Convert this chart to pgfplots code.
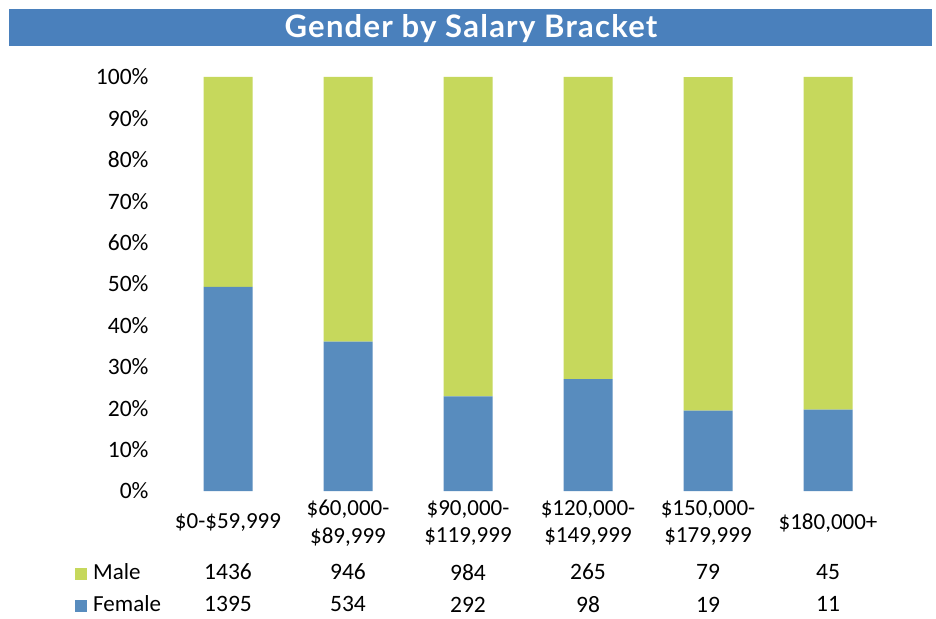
\documentclass[border=0pt]{standalone}
\usepackage{fontspec}
\setmainfont{Carlito}
\newfontfamily\titlefont{Lato}[LetterSpace=4]
\usepackage{pgfplots}
\usepackage{pgfplotstable}
\pgfplotsset{compat=1.18}
\definecolor{cFemale}{RGB}{88,140,190}
\definecolor{cMale}{RGB}{198,216,92}
\definecolor{cBanner}{RGB}{74,128,188}

% counts per salary bracket
\pgfplotstableread{
x F M
0 1395 1436
1 534 946
2 292 984
3 98 265
4 19 79
5 11 45
}\salary

\begin{document}
\begin{tikzpicture}[x=1pt,y=1pt]
\useasboundingbox (0,0) rectangle (936,618);
\fill[white] (0,0) rectangle (936,618);
% title banner
\fill[cBanner] (9,572) rectangle (932,609);
\node[text=white,font=\titlefont\bfseries\fontsize{31}{34}\selectfont] at (471,589.5) {Gender by Salary Bracket};

\pgfplotsset{base/.style={
    at={(168pt,127pt)}, anchor=south west,
    scale only axis, width=720pt, height=414pt,
    xmin=-0.5, xmax=5.5, ymin=0, ymax=100,
    clip=false,
}}

\begin{axis}[base,
    ybar stacked, bar width=49pt,
    axis line style={draw=none},
    tick style={draw=none},
    xtick={0,...,5},
    xticklabels={{\$0-\$59,999},{\$60,000-\\\$89,999},{\$90,000-\\\$119,999},
                 {\$120,000-\\\$149,999},{\$150,000-\\\$179,999},{\$180,000+}},
    xticklabel style={anchor=center,yshift=-32pt,align=center,
        font=\fontsize{23}{27.5}\selectfont},
    ytick={0,10,...,100},
    yticklabel={\pgfmathprintnumber{\tick}\%},
    yticklabel style={anchor=east,xshift=-16pt,font=\fontsize{23.5}{26}\selectfont},
    /pgf/number format/assume math mode=true,
]
\addplot[fill=cFemale,draw=none] table[x=x,y expr=100*\thisrow{F}/(\thisrow{F}+\thisrow{M})] {\salary};
\addplot[fill=cMale,draw=none] table[x=x,y expr=100*\thisrow{M}/(\thisrow{F}+\thisrow{M})] {\salary};
\end{axis}

% data table rows
\begin{axis}[base, hide axis]
\addplot[draw=none,mark=none,nodes near coords,point meta=explicit symbolic,
    every node near coord/.append style={anchor=center,inner sep=0pt,font=\fontsize{23.5}{26}\selectfont}]
    table[x=x,y expr=-19.6,meta=M] {\salary};
\addplot[draw=none,mark=none,nodes near coords,point meta=explicit symbolic,
    every node near coord/.append style={anchor=center,inner sep=0pt,font=\fontsize{23.5}{26}\selectfont}]
    table[x=x,y expr=-27.4,meta=F] {\salary};
\end{axis}

\node[anchor=west,inner sep=0pt,font=\fontsize{23}{26}\selectfont] at (75,46)
    {\textcolor{cMale}{\rule[-0.5pt]{12pt}{12pt}}\hspace{6pt}Male};
\node[anchor=west,inner sep=0pt,font=\fontsize{23}{26}\selectfont] at (75,14)
    {\textcolor{cFemale}{\rule[-0.5pt]{12pt}{12pt}}\hspace{6pt}Female};
\end{tikzpicture}
\end{document}
